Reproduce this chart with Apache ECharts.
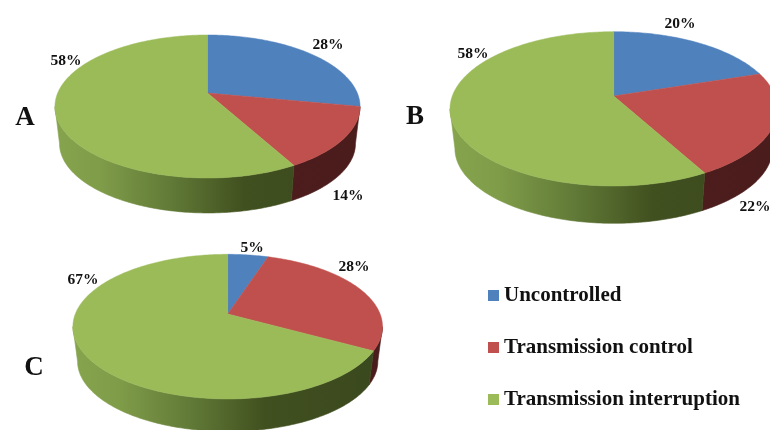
<!DOCTYPE html>
<html>
<head>
<meta charset="utf-8">
<style>html,body{margin:0;padding:0;background:#fff}#chart{width:770px;height:430px}</style>
<script src="https://cdn.jsdelivr.net/npm/echarts@6/dist/echarts.min.js"></script>
</head>
<body>
<div id="chart"></div>
<script>
// Share of each control outcome, in percent, per panel
const panelNames = ['A', 'B', 'C'];
const categories = ['Uncontrolled', 'Transmission control', 'Transmission interruption'];
const uncontrolled = [28, 20, 5];
const transmissionControl = [14, 22, 28];
const transmissionInterruption = [58, 58, 67];

const seriesValues = [uncontrolled, transmissionControl, transmissionInterruption];

// Perspective disc for each panel: cx/cy is the projected centre of the pie,
// a/b the projected radii, p the perspective strength, drop the lower rim offset.
const discs = [
  { cx: 207.5, cy: 93, a: 149.8, b: 68.95, p: 0.1888, drop: 37.5, shrink: 0.97 },
  { cx: 613.7, cy: 96, a: 161.4, b: 75, p: 0.1667, drop: 40, shrink: 0.97 },
  { cx: 227.7, cy: 314, a: 152.4, b: 70.1, p: 0.1748, drop: 35, shrink: 0.97 }
];

// Centre of each value label, panel by panel, in category order
const labelSpots = [
  [[328, 45], [348, 196], [66, 61]],
  [[680, 24], [755, 207], [473, 54]],
  [[252, 248], [354, 267], [83, 280]]
];

const panelLetterSpots = [[25, 118], [415, 117], [34, 368]];

const topColors = ['#4f81bd', '#c0504d', '#9bbb59'];
const sideStops = [
  [{ offset: 0, color: '#3a5a80' }, { offset: 1, color: '#263c56' }],
  [{ offset: 0, color: '#521f1e' }, { offset: 1, color: '#4a1c1b' }],
  [
    { offset: 0, color: '#86a44d' },
    { offset: 0.15, color: '#7f9c49' },
    { offset: 0.38, color: '#617a37' },
    { offset: 0.62, color: '#41501f' },
    { offset: 1, color: '#3a481e' }
  ]
];

const SERIF = '"Liberation Serif", "Times New Roman", serif';

// Maps a clockwise angle (degrees from 12 o'clock) onto the disc's top or lower rim
function rimPoint(disc, deg, lower) {
  const t = deg * Math.PI / 180;
  const X = Math.sin(t);
  const Y = -Math.cos(t);
  const w = 1 - disc.p * Y;
  const x = disc.a * X / w;
  const y = disc.b * Y / w;
  if (!lower) return [disc.cx + x, disc.cy + y];
  return [disc.cx + disc.shrink * x, disc.cy + disc.drop + disc.shrink * y];
}

function arc(disc, from, to, lower) {
  const pts = [];
  const steps = Math.max(2, Math.ceil(Math.abs(to - from)));
  for (let i = 0; i <= steps; i++) {
    pts.push(rimPoint(disc, from + (to - from) * i / steps, lower));
  }
  return pts;
}

function renderSlice(params, api) {
  const panel = api.value(0);
  const startPct = api.value(1);
  const value = api.value(2);
  const cat = params.seriesIndex;
  const disc = discs[panel];
  const from = startPct * 3.6;
  const to = (startPct + value) * 3.6;
  const children = [];

  // Wall of the slice: only the part of the rim that faces the viewer
  const frontStart = Math.acos(-disc.p) * 180 / Math.PI;
  const frontEnd = 360 - frontStart;
  const a0 = Math.max(from, frontStart);
  const a1 = Math.min(to, frontEnd);
  if (a1 > a0) {
    const left = disc.cx - disc.a / Math.sqrt(1 - disc.p * disc.p);
    const right = disc.cx + disc.a / Math.sqrt(1 - disc.p * disc.p);
    const fill = new echarts.graphic.LinearGradient(left, 0, right, 0, sideStops[cat], true);
    children.push({
      type: 'polygon',
      shape: { points: arc(disc, a0, a1, false).concat(arc(disc, a1, a0, true)) },
      style: { fill: fill, stroke: fill, lineWidth: 0.6 }
    });
  }

  // Top face of the slice
  children.push({
    type: 'polygon',
    z2: 5,
    shape: { points: [[disc.cx, disc.cy]].concat(arc(disc, from, to, false)) },
    style: { fill: topColors[cat], stroke: topColors[cat], lineWidth: 0.5 }
  });

  // Value label
  const spot = labelSpots[panel][cat];
  children.push({
    type: 'text',
    z2: 10,
    style: {
      text: value + '%',
      x: spot[0],
      y: spot[1],
      align: 'center',
      verticalAlign: 'middle',
      fontFamily: SERIF,
      fontWeight: 'bold',
      fontSize: 15.5,
      fill: '#111'
    }
  });

  return { type: 'group', children: children };
}

// One row per panel: panel index, cumulative start percentage, value
function rowsFor(catIndex) {
  return panelNames.map(function (_, p) {
    let start = 0;
    for (let c = 0; c < catIndex; c++) start += seriesValues[c][p];
    return [p, start, seriesValues[catIndex][p]];
  });
}

const chart = echarts.init(document.getElementById('chart'), null, { renderer: 'canvas' });
chart.setOption({
  backgroundColor: '#fff',
  animation: false,
  title: panelNames.map(function (name, i) {
    return {
      text: name,
      left: panelLetterSpots[i][0],
      top: panelLetterSpots[i][1],
      textAlign: 'center',
      textVerticalAlign: 'middle',
      padding: 0,
      textStyle: { fontFamily: SERIF, fontWeight: 'bold', fontSize: 27, color: '#111' }
    };
  }),
  legend: {
    data: categories,
    orient: 'vertical',
    left: 488,
    top: 285,
    padding: 0,
    itemWidth: 11,
    itemHeight: 11,
    itemGap: 31,
    selectedMode: false,
    icon: 'rect',
    textStyle: { fontFamily: SERIF, fontWeight: 'bold', fontSize: 21, color: '#111', letterSpacing: 0.85 }
  },
  series: categories.map(function (name, c) {
    return {
      type: 'custom',
      name: name,
      coordinateSystem: 'none',
      silent: true,
      itemStyle: { color: topColors[c] },
      renderItem: renderSlice,
      data: rowsFor(c)
    };
  })
});
</script>
</body>
</html>
